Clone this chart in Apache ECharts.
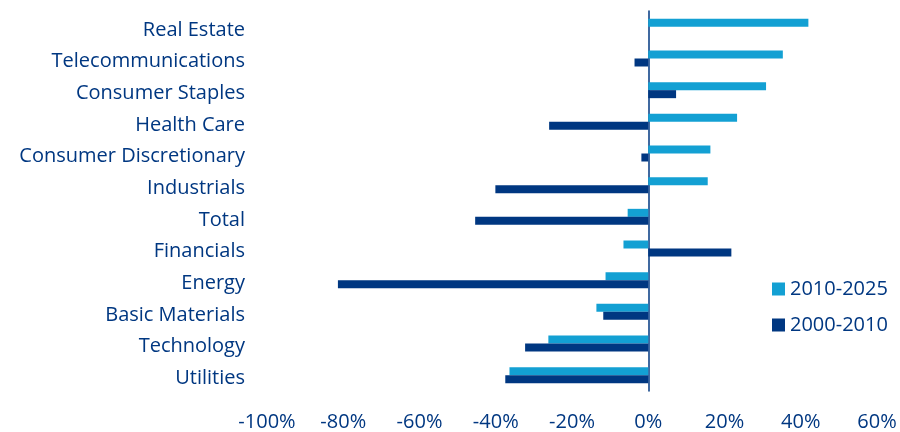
<!DOCTYPE html>
<html><head><meta charset="utf-8">
<script src="https://cdn.jsdelivr.net/npm/echarts@6/dist/echarts.min.js"></script>
<style>html,body{margin:0;padding:0;background:#fff}#c{width:900px;height:432px}</style>
</head><body><div id="c"></div>
<script>
const categories = ["Real Estate","Telecommunications","Consumer Staples","Health Care","Consumer Discretionary","Industrials","Total","Financials","Energy","Basic Materials","Technology","Utilities"];
const s2010_2025 = [42.0, 35.3, 30.9, 23.3, 16.3, 15.6, -5.4, -6.5, -11.2, -13.6, -26.2, -36.4];
const s2000_2010 = [0, -3.6, 7.3, -26.0, -1.8, -40.1, -45.4, 21.8, -81.4, -11.8, -32.3, -37.5];
const xTicks = {min: -100, max: 60, interval: 20};
const navy = '#003781', light = '#13A0D3';
const font = 'Open Sans';
const chart = echarts.init(document.getElementById('c'), null, {renderer:'canvas'});
chart.setOption({
  animation: false,
  textStyle: {fontFamily: font},
  grid: {left: 267, right: 23, top: 11, bottom: 39, containLabel: false},
  legend: {
    orient: 'vertical', left: 772, top: 279, padding: 0, itemWidth: 13, itemHeight: 13, itemGap: 16,
    icon: 'rect',
    textStyle: {color: navy, fontSize: 20, lineHeight: 20, fontFamily: font},
    data: ['2010-2025','2000-2010']
  },
  xAxis: {
    type: 'value', min: xTicks.min, max: xTicks.max, interval: xTicks.interval,
    axisLine: {show: false}, axisTick: {show: false}, splitLine: {show: false},
    axisLabel: {color: navy, fontSize: 20, fontFamily: font, margin: 21, formatter: v => v + '%'}
  },
  yAxis: {
    type: 'category', data: categories, inverse: true,
    axisLine: {show: true, onZero: true, lineStyle: {color: navy, width: 1.5}},
    axisTick: {show: false},
    axisLabel: {color: navy, fontSize: 20, fontFamily: font, margin: 22,
      formatter: v => '{a|' + v + '}',
      rich: {a: {color: navy, fontSize: 20, fontFamily: font, padding: [6, 0, 0, 0]}}}
  },
  series: [
    {name: '2010-2025', type: 'bar', data: s2010_2025, itemStyle: {color: light}, barWidth: 8, barGap: '0%'},
    {name: '2000-2010', type: 'bar', data: s2000_2010, itemStyle: {color: navy}, barWidth: 8, barGap: '0%'}
  ]
});
</script></body></html>
